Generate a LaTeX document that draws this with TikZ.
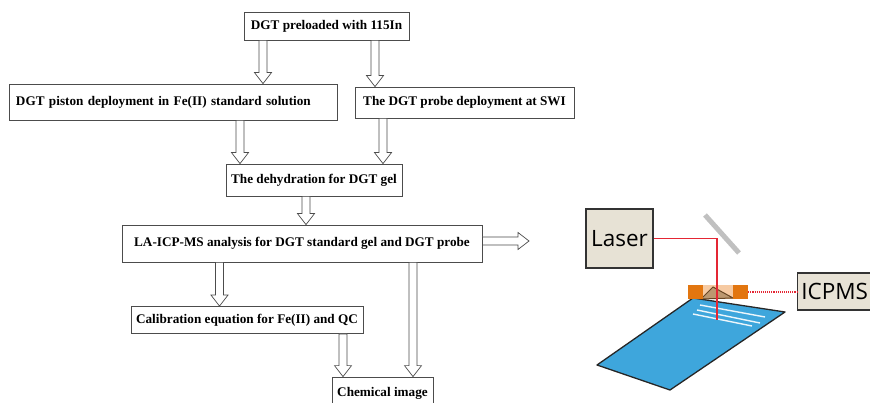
\documentclass[tikz,border=0pt]{standalone}
\usepackage{fontspec}
\setmainfont{Liberation Serif}
\newfontfamily\devicefont{Open Sans}
\usetikzlibrary{calc}

\definecolor{slab}{RGB}{62,166,220}
\definecolor{cuporange}{RGB}{226,118,16}
\definecolor{band}{RGB}{246,202,162}
\definecolor{chevron}{RGB}{188,152,112}
\definecolor{devbeige}{RGB}{231,226,213}
\definecolor{beamred}{RGB}{228,38,52}
\definecolor{mirrorgray}{RGB}{192,192,192}

\begin{document}
\begin{tikzpicture}[x=1pt, y=-1pt,
flowbox/.style={draw=black!70, line width=0.8pt, fill=white, inner sep=0pt, font=\fontsize{13.2}{15}\selectfont\bfseries},
hollow/.style={draw=black!70, line width=0.7pt, fill=white, line join=miter, to path={
  ($(\tikztotarget)!11pt!(\tikztostart)$) coordinate (hb)
  ($(\tikztostart)!4pt!90:(\tikztotarget)$) -- ($(hb)!4pt!-90:(\tikztostart)$) -- ($(hb)!8.5pt!-90:(\tikztostart)$)
  -- (\tikztotarget) -- ($(hb)!8.5pt!90:(\tikztostart)$) -- ($(hb)!4pt!90:(\tikztostart)$)
  -- ($(\tikztostart)!4pt!-90:(\tikztotarget)$) -- cycle}},
device/.style={draw=black!80, line width=1.4pt, fill=devbeige, inner sep=0pt, font=\devicefont\fontsize{22.5}{26}\selectfont},
cup/.style={fill=cuporange, minimum width=15pt, minimum height=14pt, inner sep=0pt},
beam/.style={draw=beamred, line width=1.2pt},
stripe/.style={draw=white, line width=1.4pt, opacity=0.9}
]
\useasboundingbox (0,0) rectangle (870,403);

% Steps
\node[flowbox, minimum width=165pt, minimum height=28pt] (preload) at (326.5,26) {DGT preloaded with 115In};
\node[flowbox, minimum width=328pt, minimum height=36pt, text width=314pt, align=left] (piston) at (173,102) {DGT piston deployment in Fe(II) standard solution};
\node[flowbox, minimum width=219pt, minimum height=31pt] (probe) at (464.5,102.5) {The DGT probe deployment at SWI};
\node[flowbox, minimum width=176pt, minimum height=32pt] (dehyd) at (314,180) {The dehydration for DGT gel};
\node[flowbox, minimum width=360pt, minimum height=37pt] (lams) at (302,243.5) {LA-ICP-MS analysis for DGT standard gel and DGT probe};
\node[flowbox, minimum width=232pt, minimum height=27pt] (calib) at (247,320) {Calibration equation for Fe(II) and QC};
\node[flowbox, minimum width=101pt, minimum height=32pt] (chem) at (382.5,393) {Chemical image};
\coordinate (scan) at (529,241);

% Arrows
\draw[hollow] (preload.south -| 263,0) to (piston.north -| 263,0);
\draw[hollow] (preload.south -| 375,0) to (probe.north -| 375,0);
\draw[hollow] (piston.south -| 240,0) to (dehyd.north -| 240,0);
\draw[hollow] (probe.south -| 383,0) to (dehyd.north -| 383,0);
\draw[hollow] (dehyd.south -| 306,0) to (lams.north -| 306,0);
\draw[hollow] (lams.east |- scan) to (scan);
\draw[hollow] (lams.south -| 219.5,0) to (calib.north -| 219.5,0);
\draw[hollow] (lams.south -| 413,0) to (chem.north -| 413,0);
\draw[hollow] (calib.south -| 343,0) to (chem.north -| 343,0);

% Laser ablation set-up
\node[device, minimum width=67pt, minimum height=59pt] (laser) at (619.5,238.5) {Laser};
\node[device, minimum width=74pt, minimum height=37pt, anchor=west] (icpms) at (797,291.5) {ICPMS};

\filldraw[fill=slab, draw=black!85, line width=1.3pt, line join=round] (693,298) -- (785,312) -- (670,390) -- (597,365) -- cycle;
\foreach \xa/\ya/\xb/\yb in {700/305/765/317, 697/310/760/323, 693/314/752/326}
  \draw[stripe] (\xa,\ya) -- (\xb,\yb);

\fill[band] (703,285) rectangle (733,299);
\filldraw[fill=chevron, draw=brown!55!black, line width=1pt] (701,299) -- (713,287) -- (733,298) -- cycle;
\node[cup] (cupL) at (695,292) {};
\node[cup] (cupR) at (740.5,292) {};

\draw[mirrorgray, line width=5pt] (705,215) -- (739,253);
\coordinate (bend) at (717,238.5);
\coordinate (spot) at (717,320);
\draw[beam] (laser.east) -- (bend) -- (spot);
\draw[beamred, densely dotted, line width=1.1pt] (cupR.east) -- (icpms.west |- cupR.east);

\end{tikzpicture}
\end{document}
